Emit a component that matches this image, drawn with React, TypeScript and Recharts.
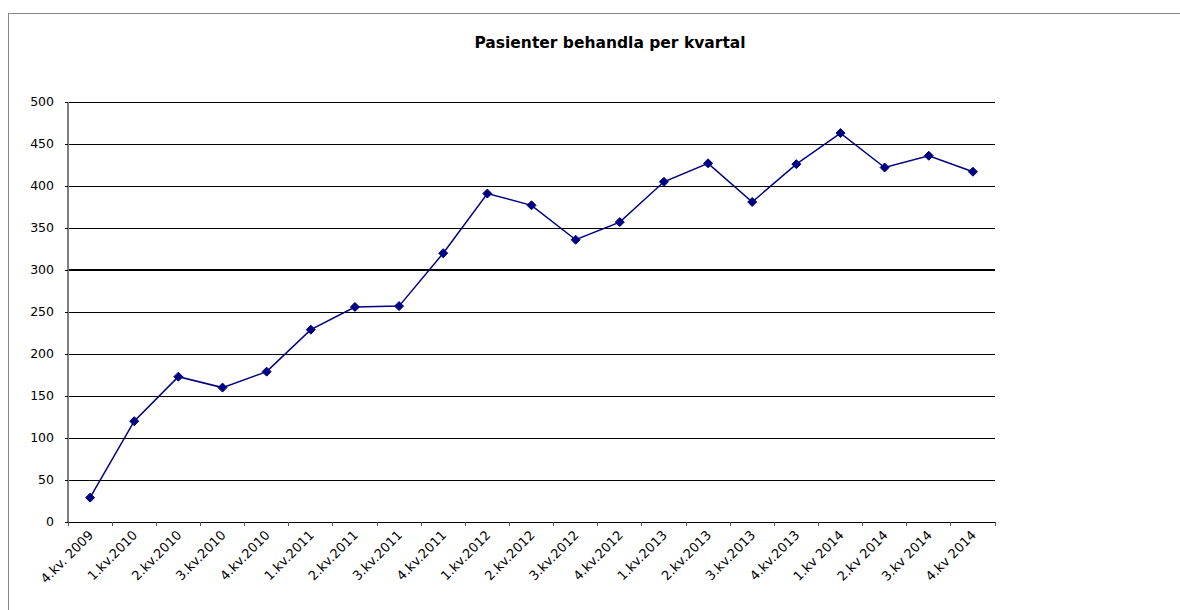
import { LineChart, Line, XAxis, YAxis, CartesianGrid, ReferenceLine } from 'recharts';

const quarters = [
  '4.kv. 2009', '1.kv.2010', '2.kv.2010', '3.kv.2010', '4.kv.2010',
  '1.kv.2011', '2.kv.2011', '3.kv.2011', '4.kv.2011',
  '1.kv.2012', '2.kv.2012', '3.kv.2012', '4.kv.2012',
  '1.kv.2013', '2.kv.2013', '3.kv.2013', '4.kv.2013',
  '1.kv 2014', '2.kv 2014', '3.kv 2014', '4.kv 2014',
];
const patients = [29, 120, 173, 160, 179, 229, 256, 257, 320, 391, 377, 336, 357, 405, 427, 381, 426, 463, 422, 436, 417];
const yTicks = [0, 50, 100, 150, 200, 250, 300, 350, 400, 450, 500];

const data = quarters.map((q, i) => ({ quarter: q, patients: patients[i] }));

const FONT = '"DejaVu Sans", sans-serif';
const CHART_W = 1171;
const CHART_H = 588;
const MARGIN = { top: 88, right: 185, bottom: 10, left: 9 };
const Y_W = 50;
const BAND = (CHART_W - MARGIN.left - MARGIN.right - Y_W) / quarters.length;

function QuarterTick(props: any) {
  const { x, y, payload, index } = props;
  const last = index === quarters.length - 1;
  const ax = x + 4;
  const ay = y + 14;
  return (
    <g>
      <line x1={x - BAND / 2} x2={x - BAND / 2} y1={y} y2={y + 4} stroke="#555" shapeRendering="crispEdges" />
      {last && <line x1={x + BAND / 2} x2={x + BAND / 2} y1={y} y2={y + 4} stroke="#555" shapeRendering="crispEdges" />}
      <text
        x={ax}
        y={ay}
        textAnchor="end"
        fontSize={13}
        fontFamily={FONT}
        fill="#000"
        transform={`rotate(-45 ${ax} ${ay})`}
      >
        {payload.value}
      </text>
    </g>
  );
}

function Diamond(props: any) {
  const { cx, cy } = props;
  if (cx == null || cy == null) return null;
  const r = 4.5;
  return (
    <polygon
      points={`${cx},${cy - r} ${cx + r},${cy} ${cx},${cy + r} ${cx - r},${cy}`}
      fill="#000080"
      stroke="#000080"
    />
  );
}

export default function App() {
  return (
    <div
      style={{
        position: 'absolute',
        left: 8,
        top: 13,
        width: 1172,
        height: 596,
        borderTop: '1px solid #888',
        borderLeft: '1px solid #888',
        overflow: 'hidden',
        background: '#fff',
      }}
    >
      <div
        style={{
          position: 'absolute',
          left: 601,
          top: 20,
          transform: 'translateX(-50%)',
          fontFamily: FONT,
          fontWeight: 'bold',
          fontSize: 15.5,
          lineHeight: '18px',
          whiteSpace: 'nowrap',
          color: '#000',
        }}
      >
        Pasienter behandla per kvartal
      </div>
      <LineChart width={CHART_W} height={CHART_H} data={data} margin={MARGIN}>
        <CartesianGrid vertical={false} stroke="#000" strokeWidth={1} shapeRendering="crispEdges" />
        <XAxis
          dataKey="quarter"
          scale="band"
          interval={0}
          height={70}
          tickSize={0}
          tickMargin={0}
          tickLine={false}
          axisLine={{ stroke: '#000', shapeRendering: 'crispEdges' }}
          tick={<QuarterTick />}
        />
        <YAxis
          width={Y_W}
          domain={[0, 500]}
          ticks={yTicks}
          interval={0}
          tickSize={3}
          tickMargin={11}
          tickLine={{ stroke: '#000', shapeRendering: 'crispEdges' }}
          axisLine={{ stroke: '#7f7f7f', strokeWidth: 2 }}
          tick={{ fontSize: 12.5, fontFamily: FONT, fill: '#000' }}
        />
        <YAxis
          yAxisId="frame"
          orientation="right"
          width={0}
          tick={false}
          tickLine={false}
          axisLine={{ stroke: '#7f7f7f', strokeWidth: 2 }}
        />
        <ReferenceLine y={300} stroke="#000" strokeWidth={2} />
        <Line
          dataKey="patients"
          stroke="#000080"
          strokeWidth={1.5}
          dot={<Diamond />}
          activeDot={false}
          isAnimationActive={false}
        />
      </LineChart>
    </div>
  );
}
